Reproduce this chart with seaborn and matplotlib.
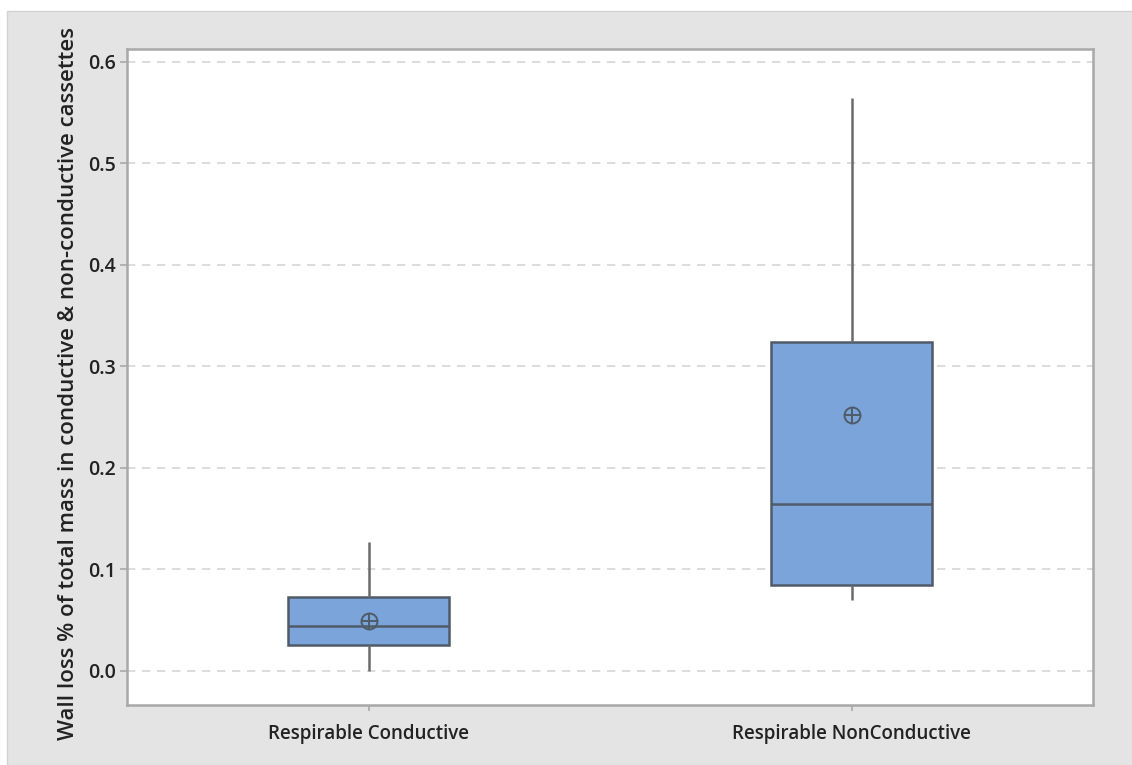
import numpy as np
import pandas as pd
import matplotlib
matplotlib.use("Agg")
import matplotlib.pyplot as plt
import seaborn as sns
from matplotlib.patches import Rectangle

# ---------------------------
# DATA
# ---------------------------
categories = ["Respirable Conductive", "Respirable NonConductive"]
# five-number summaries: min, Q1, median, Q3, max
whisker_low = [0.000, 0.069]
q1_values = [0.025, 0.084]
medians = [0.044, 0.164]
q3_values = [0.072, 0.324]
whisker_high = [0.127, 0.564]
means = [0.049, 0.252]

y_ticks = [0.0, 0.1, 0.2, 0.3, 0.4, 0.5, 0.6]
y_label = "Wall loss % of total mass in conductive & non-conductive cassettes"

# ---------------------------
# STYLE
# ---------------------------
BOX_COLOR = "#7ba5da"
EDGE_COLOR = "#4f5b68"
SPINE_COLOR = "#a8a8a8"
PANEL_GRAY = "#e4e4e4"

sns.set_theme(style="white")
plt.rcParams["font.family"] = ["Open Sans", "DejaVu Sans"]

# long-format table: the five summary values per group give exact quartiles
rows = []
for i, cat in enumerate(categories):
    for v in (whisker_low[i], q1_values[i], medians[i], q3_values[i], whisker_high[i]):
        rows.append({"group": cat, "value": v})
df = pd.DataFrame(rows)

fig = plt.figure(figsize=(11.32, 7.65), dpi=100)
fig.patch.set_facecolor("white")
# gray frame behind the plot like the source software
fig.patches.append(Rectangle((7 / 1132, -0.01), 1.02, 1 - 11 / 765 + 0.01,
                             transform=fig.transFigure, facecolor=PANEL_GRAY,
                             edgecolor="#d2d2d2", linewidth=1.0, zorder=-10))

ax = fig.add_axes([127 / 1132, 1 - 705 / 765, (1093 - 127) / 1132, (705 - 49) / 765])
ax.set_facecolor("white")

sns.boxplot(data=df, x="group", y="value", order=categories, ax=ax,
            width=0.333, whis=(0, 100), color=BOX_COLOR, saturation=1,
            linecolor=EDGE_COLOR, linewidth=1.8, showcaps=False,
            boxprops=dict(edgecolor=EDGE_COLOR),
            whiskerprops=dict(color="#6b6b6b", linewidth=1.8),
            medianprops=dict(color=EDGE_COLOR, linewidth=1.8),
            zorder=3)

# mean symbols (circle with cross)
pos = np.arange(len(categories))
ax.plot(pos, means, linestyle="none", marker="o", markersize=11.5,
        markerfacecolor="none", markeredgecolor=EDGE_COLOR, markeredgewidth=1.4, zorder=5)
ax.plot(pos, means, linestyle="none", marker="+", markersize=11.5,
        markeredgecolor=EDGE_COLOR, markeredgewidth=1.4, zorder=5)

ax.set_xlim(-0.5, 1.5)
ax.set_ylim(-0.034, 0.6125)
ax.set_yticks(y_ticks)
ax.set_yticklabels([f"{t:.1f}" for t in y_ticks])
ax.yaxis.grid(True, linestyle=(0, (5, 4)), color="#d6d6d6", linewidth=1.2)
ax.set_axisbelow(True)

for s in ax.spines.values():
    s.set_color(SPINE_COLOR)
    s.set_linewidth(1.8)

ax.tick_params(axis="y", length=5, width=1.2, color=SPINE_COLOR, labelsize=14,
               labelcolor="#222222", pad=3, left=True)
ax.tick_params(axis="x", length=4, width=1.2, color=SPINE_COLOR, labelsize=13.5,
               labelcolor="#222222", pad=10, bottom=True)
for lbl in ax.get_yticklabels() + ax.get_xticklabels():
    lbl.set_fontweight("semibold")

ax.set_xlabel("")
ax.set_ylabel(y_label, fontsize=16, fontweight="semibold", color="#222222")
ax.yaxis.set_label_coords((79 - 127) / 966, (765 - 383 - 60) / 656)

fig.savefig("out.png", dpi=100)
